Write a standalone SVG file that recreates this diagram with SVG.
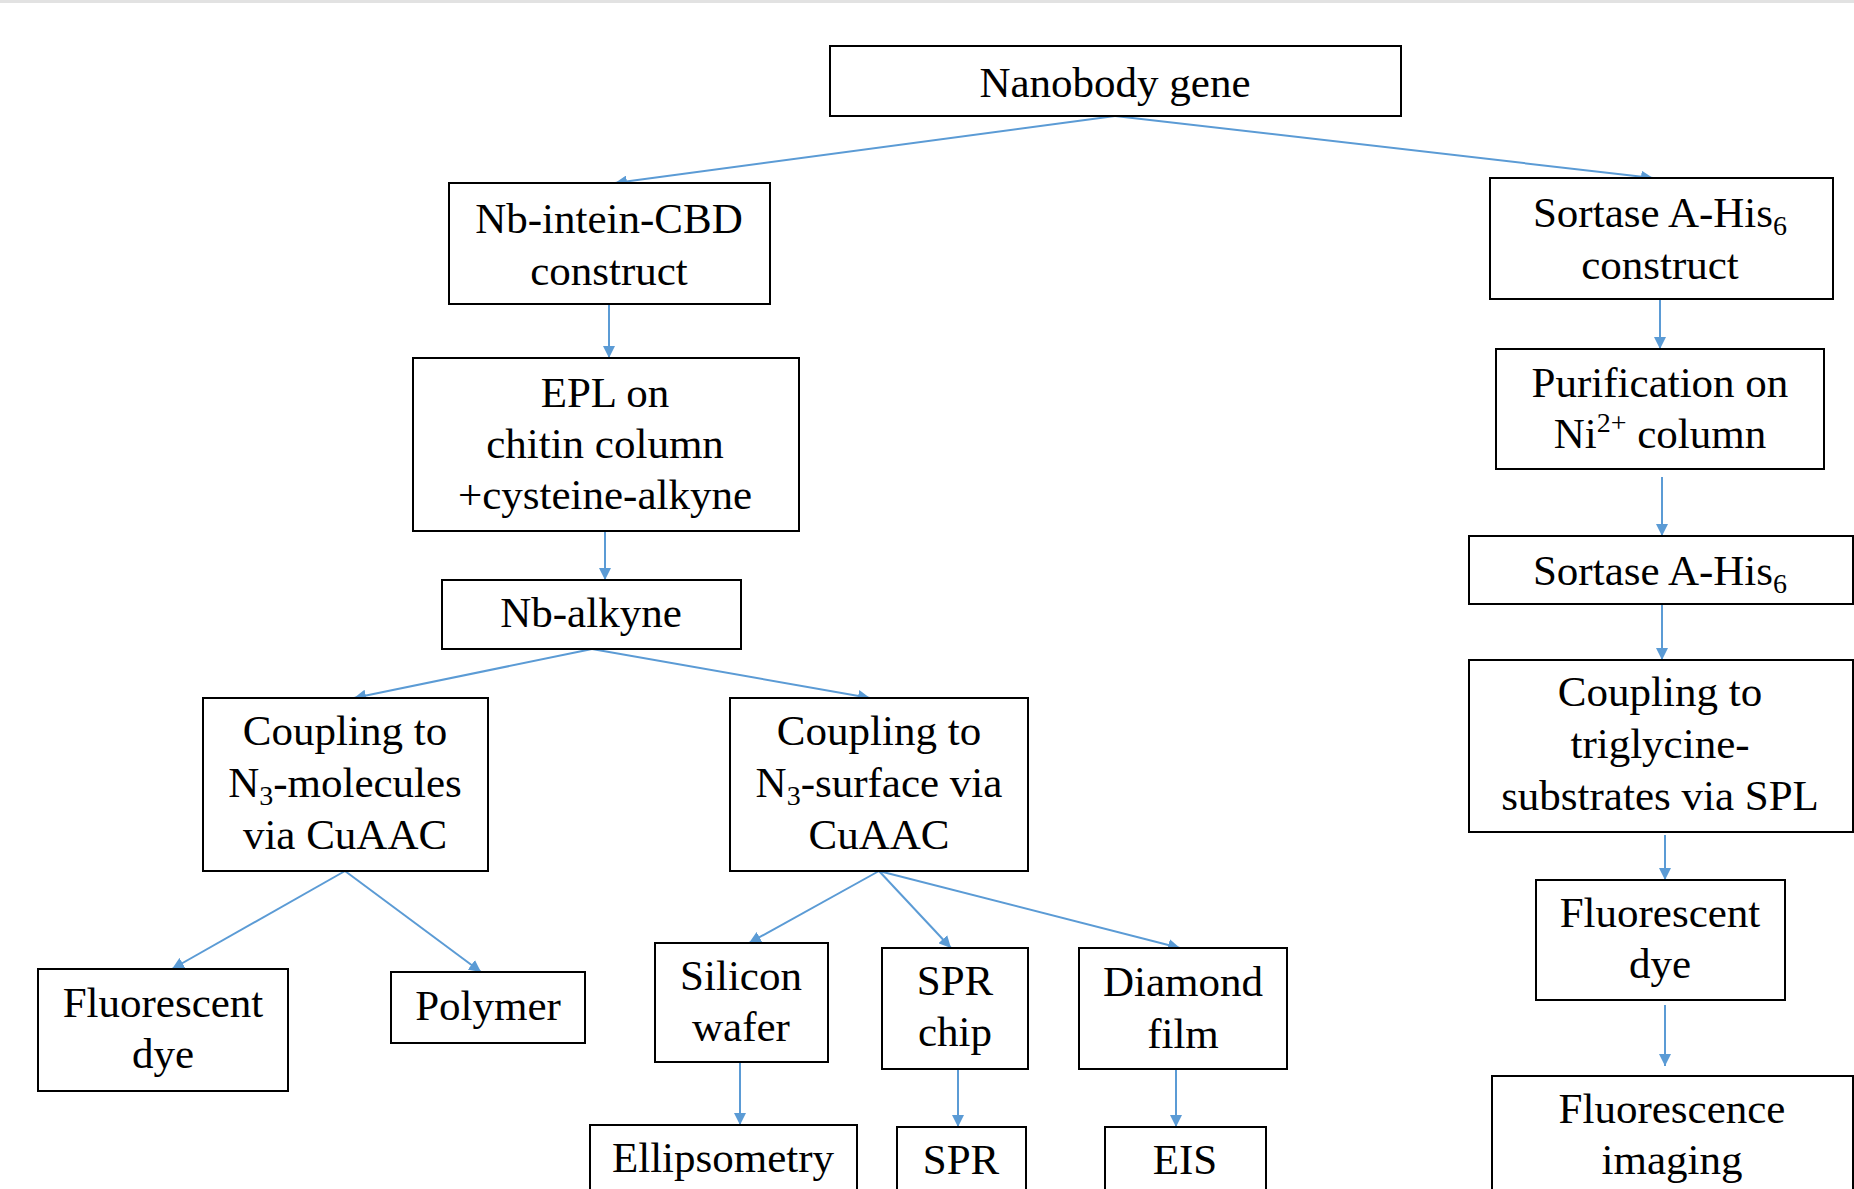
<svg xmlns="http://www.w3.org/2000/svg" width="1854" height="1189" viewBox="0 0 1854 1189">
<defs>
<style>
.box{fill:#fff;stroke:#000;stroke-width:2}
.t{font-family:"Liberation Serif","Times New Roman",serif;font-size:43px;fill:#000;text-anchor:middle}
.c{stroke:#5b9bd5;stroke-width:2;fill:none;marker-end:url(#ah)}
</style>
<marker id="ah" markerUnits="userSpaceOnUse" markerWidth="12" markerHeight="12" refX="12" refY="6" orient="auto">
<path d="M0,0 L12,6 L0,12 z" fill="#5b9bd5"/>
</marker>
</defs>
<rect x="0" y="0" width="1854" height="1189" fill="#fff"/>
<rect x="0" y="0" width="1854" height="3" fill="#e2e2e2"/>

<g id="connectors">
<line class="c" x1="1115" y1="116" x2="615" y2="183"/>
<line class="c" x1="1115" y1="116" x2="1653" y2="178"/>
<line class="c" x1="609" y1="304" x2="609" y2="358"/>
<line class="c" x1="605" y1="532" x2="605" y2="580"/>
<line class="c" x1="592" y1="649" x2="354" y2="698"/>
<line class="c" x1="592" y1="649" x2="870" y2="698"/>
<line class="c" x1="345" y1="871" x2="172" y2="969"/>
<line class="c" x1="345" y1="871" x2="481" y2="972"/>
<line class="c" x1="879" y1="871" x2="749" y2="943"/>
<line class="c" x1="879" y1="871" x2="951" y2="948"/>
<line class="c" x1="879" y1="871" x2="1180" y2="948"/>
<line class="c" x1="740" y1="1062" x2="740" y2="1125"/>
<line class="c" x1="958" y1="1069" x2="958" y2="1127"/>
<line class="c" x1="1176" y1="1069" x2="1176" y2="1127"/>
<line class="c" x1="1660" y1="299" x2="1660" y2="349"/>
<line class="c" x1="1662" y1="477" x2="1662" y2="536"/>
<line class="c" x1="1662" y1="604" x2="1662" y2="660"/>
<line class="c" x1="1665" y1="835" x2="1665" y2="880"/>
<line class="c" x1="1665" y1="1005" x2="1665" y2="1066"/>
</g>

<g id="nanobody-gene"><rect class="box" x="830" y="46" width="571" height="70"/><text class="t" x="1115" y="97">Nanobody gene</text></g>
<g id="nb-intein-cbd"><rect class="box" x="449" y="183" width="321" height="121"/><text class="t" x="609" y="233">Nb-intein-CBD</text><text class="t" x="609" y="285">construct</text></g>
<g id="sortase-construct"><rect class="box" x="1490" y="178" width="343" height="121"/><text class="t" x="1660" y="227">Sortase A-His<tspan font-size="28" dy="8">6</tspan></text><text class="t" x="1660" y="279">construct</text></g>
<g id="epl"><rect class="box" x="413" y="358" width="386" height="173"/><text class="t" x="605" y="407">EPL on</text><text class="t" x="605" y="458">chitin column</text><text class="t" x="605" y="509">+cysteine-alkyne</text></g>
<g id="nb-alkyne"><rect class="box" x="442" y="580" width="299" height="69"/><text class="t" x="591" y="627">Nb-alkyne</text></g>
<g id="coupling-molecules"><rect class="box" x="203" y="698" width="285" height="173"/><text class="t" x="345" y="745">Coupling to</text><text class="t" x="345" y="797">N<tspan font-size="28" dy="8">3</tspan><tspan dy="-8">-molecules</tspan></text><text class="t" x="345" y="849">via CuAAC</text></g>
<g id="coupling-surface"><rect class="box" x="730" y="698" width="298" height="173"/><text class="t" x="879" y="745">Coupling to</text><text class="t" x="879" y="797">N<tspan font-size="28" dy="8">3</tspan><tspan dy="-8">-surface via</tspan></text><text class="t" x="879" y="849">CuAAC</text></g>
<g id="fluorescent-dye-left"><rect class="box" x="38" y="969" width="250" height="122"/><text class="t" x="163" y="1017">Fluorescent</text><text class="t" x="163" y="1068">dye</text></g>
<g id="polymer"><rect class="box" x="391" y="972" width="194" height="71"/><text class="t" x="488" y="1020">Polymer</text></g>
<g id="silicon-wafer"><rect class="box" x="655" y="943" width="173" height="119"/><text class="t" x="741" y="990">Silicon</text><text class="t" x="741" y="1041">wafer</text></g>
<g id="spr-chip"><rect class="box" x="882" y="948" width="146" height="121"/><text class="t" x="955" y="995">SPR</text><text class="t" x="955" y="1046">chip</text></g>
<g id="diamond-film"><rect class="box" x="1079" y="948" width="208" height="121"/><text class="t" x="1183" y="996">Diamond</text><text class="t" x="1183" y="1048">film</text></g>
<g id="ellipsometry"><rect class="box" x="590" y="1125" width="267" height="90"/><text class="t" x="723" y="1172">Ellipsometry</text></g>
<g id="spr"><rect class="box" x="897" y="1127" width="129" height="90"/><text class="t" x="961" y="1174">SPR</text></g>
<g id="eis"><rect class="box" x="1105" y="1127" width="161" height="90"/><text class="t" x="1185" y="1174">EIS</text></g>
<g id="purification"><rect class="box" x="1496" y="349" width="328" height="120"/><text class="t" x="1660" y="397">Purification on</text><text class="t" x="1660" y="448">Ni<tspan font-size="28" dy="-16">2+</tspan><tspan dy="16"> column</tspan></text></g>
<g id="sortase"><rect class="box" x="1469" y="536" width="384" height="68"/><text class="t" x="1660" y="585">Sortase A-His<tspan font-size="28" dy="8">6</tspan></text></g>
<g id="coupling-triglycine"><rect class="box" x="1469" y="660" width="384" height="172"/><text class="t" x="1660" y="706">Coupling to</text><text class="t" x="1660" y="758">triglycine-</text><text class="t" x="1660" y="810">substrates via SPL</text></g>
<g id="fluorescent-dye-right"><rect class="box" x="1536" y="880" width="249" height="120"/><text class="t" x="1660" y="927">Fluorescent</text><text class="t" x="1660" y="978">dye</text></g>
<g id="fluorescence-imaging"><rect class="box" x="1492" y="1076" width="361" height="140"/><text class="t" x="1672" y="1123">Fluorescence</text><text class="t" x="1672" y="1174">imaging</text></g>
</svg>
